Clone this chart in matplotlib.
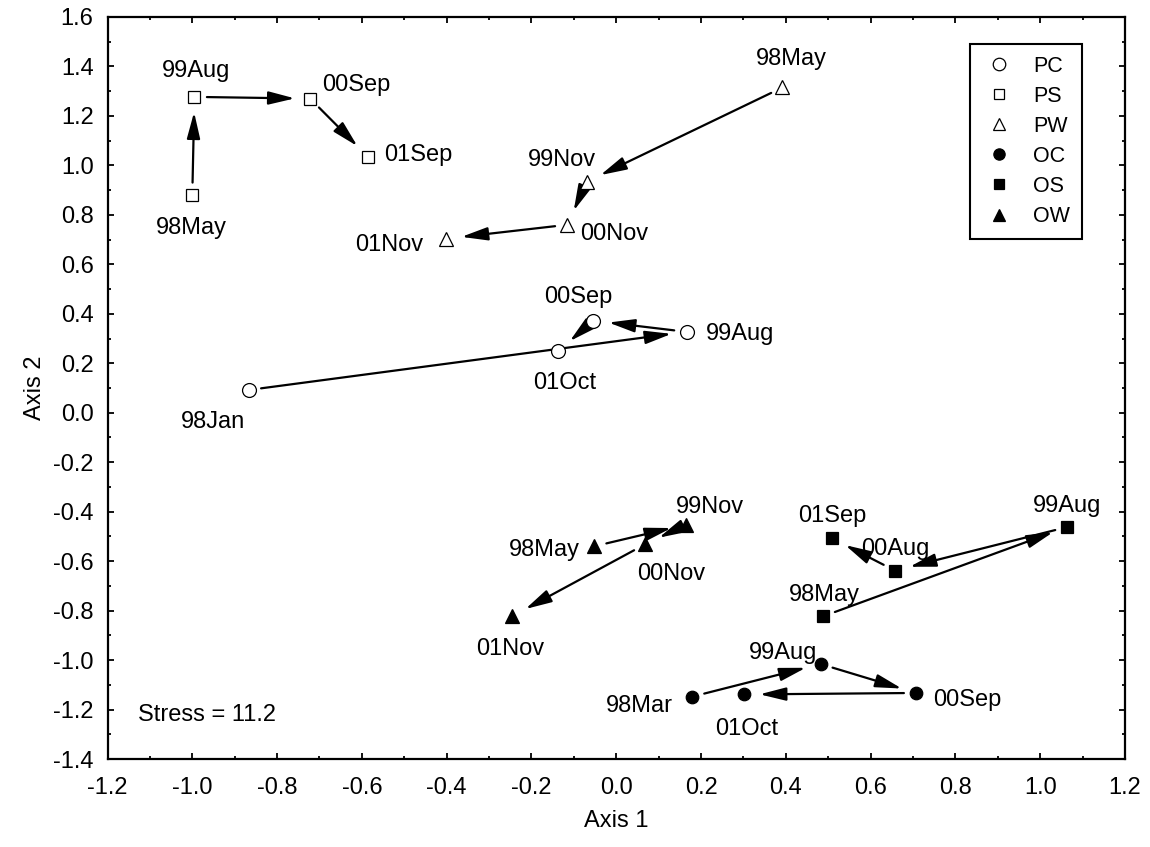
import matplotlib
matplotlib.use('Agg')
import matplotlib.pyplot as plt

plt.rcParams['font.family'] = ['Liberation Sans', 'DejaVu Sans']

# MDS coordinates per group, in time order
groups = ['PC', 'PS', 'PW', 'OC', 'OS', 'OW']

pc_lab = ['98Jan', '99Aug', '00Sep', '01Oct']
pc_x = [-0.867, 0.166, -0.054, -0.137]
pc_y = [0.092, 0.327, 0.372, 0.249]

ps_lab = ['98May', '99Aug', '00Sep', '01Sep']
ps_x = [-1.000, -0.995, -0.722, -0.585]
ps_y = [0.880, 1.277, 1.270, 1.034]

pw_lab = ['98May', '99Nov', '00Nov', '01Nov']
pw_x = [0.392, -0.070, -0.115, -0.401]
pw_y = [1.315, 0.934, 0.760, 0.704]

oc_lab = ['98Mar', '99Aug', '00Sep', '01Oct']
oc_x = [0.179, 0.482, 0.708, 0.302]
oc_y = [-1.148, -1.016, -1.133, -1.139]

os_lab = ['98May', '99Aug', '00Aug', '01Sep']
os_x = [0.488, 1.064, 0.657, 0.508]
os_y = [-0.823, -0.462, -0.638, -0.507]

ow_lab = ['98May', '99Nov', '00Nov', '01Nov']
ow_x = [-0.052, 0.165, 0.068, -0.246]
ow_y = [-0.540, -0.452, -0.532, -0.823]

stress = 11.2

# layout: marker style and label offsets (pixels) for each group
styles = {
  'PC': dict(marker='o', ms=10, mfc='white'),
  'PS': dict(marker='s', ms=8.5, mfc='white'),
  'PW': dict(marker='^', ms=10, mfc='white'),
  'OC': dict(marker='o', ms=9, mfc='black'),
  'OS': dict(marker='s', ms=8.5, mfc='black'),
  'OW': dict(marker='^', ms=10, mfc='black'),
}
offsets = {
  'PC': [(-36, -32), (53, -2), (-15, 24), (7, -32)],
  'PS': [(-1, -33), (2, 26), (46, 14), (50, 2)],
  'PW': [(9, 28), (-25, 22), (47, -9), (-57, -6)],
  'OC': [(-53, -9), (-38, 11), (51, -7), (2, -35)],
  'OS': [(1, 21), (0, 21), (1, 22), (1, 22)],
  'OW': [(-50, -4), (24, 18), (26, -30), (-2, -33)],
}

data = {
  'PC': (pc_x, pc_y, pc_lab),
  'PS': (ps_x, ps_y, ps_lab),
  'PW': (pw_x, pw_y, pw_lab),
  'OC': (oc_x, oc_y, oc_lab),
  'OS': (os_x, os_y, os_lab),
  'OW': (ow_x, ow_y, ow_lab),
}

fs = 17

fig = plt.figure(figsize=(11.5, 8.47), dpi=100, facecolor='w')
ax = fig.add_axes([107.5 / 1150, 1 - 759 / 847, (1125 - 107.5) / 1150, (759 - 17) / 847])

for g in groups:
  xs, ys, labs = data[g]
  st = styles[g]
  ax.plot(xs, ys, linestyle='none', marker=st['marker'], markersize=st['ms'],
          markerfacecolor=st['mfc'], markeredgecolor='black', markeredgewidth=0.9,
          label=g, zorder=3)
  for i in range(len(xs) - 1):
    ax.annotate('', xy=(xs[i + 1], ys[i + 1]), xytext=(xs[i], ys[i]),
                arrowprops=dict(arrowstyle='-|>,head_length=0.8,head_width=0.2',
                                mutation_scale=20, color='black', lw=1.6,
                                shrinkA=9, shrinkB=11), zorder=2)
  for i, lab in enumerate(labs):
    dx, dy = offsets[g][i]
    ax.annotate(lab, xy=(xs[i], ys[i]), xytext=(dx, dy), textcoords='offset pixels',
                ha='center', va='center', fontsize=fs)

ax.text(-1.127, -1.222, f'Stress = {stress}', fontsize=fs, ha='left', va='center')

ax.set_xlim(-1.2, 1.2)
ax.set_ylim(-1.4, 1.6)
ax.set_xticks([-1.2 + 0.2 * k for k in range(13)])
ax.set_yticks([-1.4 + 0.2 * k for k in range(16)])
ax.set_xticks([-1.1 + 0.2 * k for k in range(12)], minor=True)
ax.set_yticks([-1.3 + 0.2 * k for k in range(15)], minor=True)
ax.set_xticklabels([f'{-1.2 + 0.2 * k:.1f}'.replace('-0.0', '0.0') for k in range(13)])
ax.set_yticklabels([f'{-1.4 + 0.2 * k:.1f}'.replace('-0.0', '0.0') for k in range(16)])
ax.tick_params(which='both', direction='in', top=True, right=True, width=1.3, labelsize=fs)
ax.tick_params(which='major', length=4.5)
ax.tick_params(which='minor', length=2.3)
ax.tick_params(axis='x', pad=13)
ax.tick_params(axis='y', pad=10)
for sp in ax.spines.values():
  sp.set_linewidth(1.6)

ax.set_xlabel('Axis 1', fontsize=fs, labelpad=8)
ax.set_ylabel('Axis 2', fontsize=fs, labelpad=5)

leg = ax.legend(loc='upper right', bbox_to_anchor=(1082 / 1150, 1 - 44 / 847),
                bbox_transform=fig.transFigure, borderaxespad=0, fontsize=15.5,
                frameon=True, fancybox=False, edgecolor='black', framealpha=1,
                handlelength=1.6, handletextpad=0.8, labelspacing=0.42,
                borderpad=0.55, markerscale=0.9)
leg.get_frame().set_linewidth(1.5)

plt.savefig('out.png', dpi=100)
